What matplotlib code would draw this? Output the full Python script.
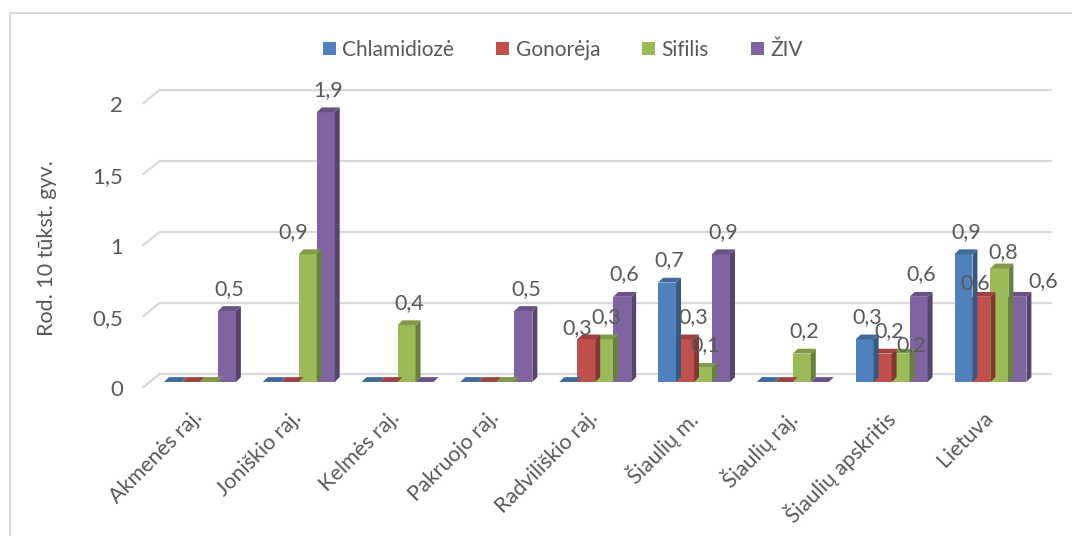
import matplotlib
matplotlib.use("Agg")
import matplotlib.pyplot as plt
from matplotlib.patches import Polygon, Rectangle
from matplotlib.lines import Line2D
import numpy as np

plt.rcParams["font.family"] = ["Lato", "DejaVu Sans"]

categories = ["Akmenės raj.", "Joniškio raj.", "Kelmės raj.", "Pakruojo raj.", "Radviliškio raj.",
              "Šiaulių m.", "Šiaulių raj.", "Šiaulių apskritis", "Lietuva"]
series_names = ["Chlamidiozė", "Gonorėja", "Sifilis", "ŽIV"]
chlamidioze = [0, 0, 0, 0, 0, 0.7, 0, 0.3, 0.9]
gonoreja = [0, 0, 0, 0, 0.3, 0.3, 0, 0.2, 0.6]
sifilis = [0, 0.9, 0.4, 0, 0.3, 0.1, 0.2, 0.2, 0.8]
ziv = [0.5, 1.9, 0, 0.5, 0.6, 0.9, 0, 0.6, 0.6]
y_ticks = [0, 0.5, 1, 1.5, 2]
y_label = "Rod. 10 tūkst. gyv."

colors = ["#4F81BD", "#C0504D", "#9BBB59", "#8064A2"]
text_color = "#595959"

# label nudges (points) where Excel moved labels to dodge each other: (series, category) -> (dx, dy)
nudges = {
    (1, 4): (-8, -8),
    (1, 5): (4, 0),
    (2, 1): (-12, 0),
    (1, 7): (3, 0), (2, 7): (6, -10),
    (1, 8): (-6, -6), (2, 8): (1, -4.5), (3, 8): (17, -4.5),
}


def shade(c, f):
    r, g, b = matplotlib.colors.to_rgb(c)
    return (r * f, g * f, b * f)


fig = plt.figure(figsize=(10.72, 5.36), dpi=100)
ax = fig.add_axes([0.1331, 0.2715, 0.848, 0.5774])
ax.set_xlim(-0.58, 8.62)
ax.set_ylim(-0.06, 2.12)
for s in ax.spines.values():
    s.set_visible(False)

bw = 0.182   # bar width in category units
dx = 0.05    # depth offset x
dy = 0.034   # depth offset y
gdy = 0.056  # back wall offset for gridlines

# back wall gridlines with slanted floor edge
for v in y_ticks:
    ax.plot([-0.58, -0.41, 8.62], [v - 0.04, v + gdy, v + gdy], color="#D9D9D9", lw=1.6,
            solid_capstyle="butt", zorder=1, clip_on=False)

values = [chlamidioze, gonoreja, sifilis, ziv]
x = np.arange(len(categories))
for si, vals in enumerate(values):
    for ci, v in enumerate(vals):
        left = x[ci] + (si - 2) * bw
        z = 3 + ci * 0.01 - si * 0.001
        ax.add_patch(Rectangle((left, 0), bw, v, facecolor=colors[si], edgecolor="none", zorder=z))
        right = left + bw
        ax.add_patch(Polygon([(right, 0), (right + dx, dy), (right + dx, v + dy), (right, v)],
                             closed=True, facecolor=shade(colors[si], 0.68), edgecolor="none", zorder=z))
        ax.add_patch(Polygon([(left, v), (right, v), (right + dx, v + dy), (left + dx, v + dy)],
                             closed=True, facecolor=shade(colors[si], 0.82), edgecolor="none", zorder=z))
        if v > 0:
            ndx, ndy = nudges.get((si, ci), (0, 0))
            ax.annotate(f"{v:g}".replace(".", ","), (left + bw / 2 + dx / 2, v),
                        xytext=(ndx, 16 + ndy), textcoords="offset points",
                        ha="center", va="center", fontsize=15.5, color=text_color, zorder=10)

ax.set_yticks([v - 0.04 for v in y_ticks])
ax.set_yticklabels([f"{v:g}".replace(".", ",") for v in y_ticks], fontsize=16, color=text_color)
ax.set_xticks(x - 0.08)
ax.set_xticklabels(categories, rotation=45, ha="right", rotation_mode="anchor",
                   fontsize=15.5, color=text_color)
ax.tick_params(axis="both", length=0)
ax.tick_params(axis="y", pad=14)
ax.tick_params(axis="x", pad=12)
ax.set_ylabel(y_label, fontsize=15.5, color=text_color)
ax.yaxis.set_label_coords(-0.094, 0.46)

handles = [Rectangle((0, 0), 1, 1, facecolor=c, edgecolor="none") for c in colors]
fig.legend(handles, series_names, loc="center", bbox_to_anchor=(0.525, 0.907), ncol=4, frameon=False,
           fontsize=15, labelcolor=text_color, handlelength=0.65, handleheight=0.65,
           handletextpad=0.3, columnspacing=2.0)

# chart area border (top and left edges visible)
fig.add_artist(Line2D([10 / 1072, 1.0], [1 - 13 / 536, 1 - 13 / 536], color="#D9D9D9", lw=1.5))
fig.add_artist(Line2D([10 / 1072, 10 / 1072], [0, 1 - 13 / 536], color="#D9D9D9", lw=1.5))

fig.savefig("out.png", dpi=100)
